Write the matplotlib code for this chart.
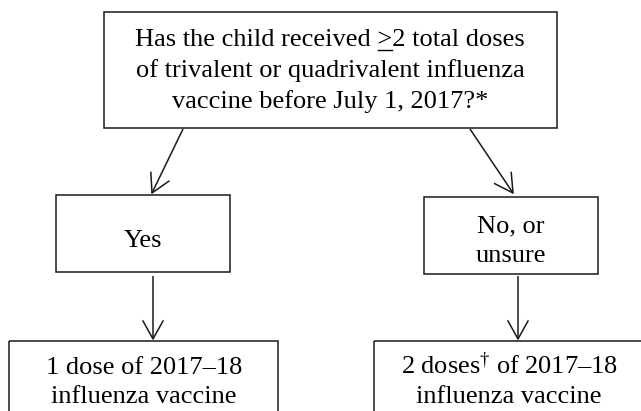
import numpy as np
import matplotlib
matplotlib.use("Agg")
import matplotlib.pyplot as plt
from matplotlib.patches import Rectangle

# --- текст узлов схемы ---
question_lines = ["Has the child received >2 total doses",
                  "of trivalent or quadrivalent influenza",
                  "vaccine before July 1, 2017?*"]
yes_lines = ["Yes"]
no_lines = ["No, or", "unsure"]
yes_dose_lines = ["1 dose of 2017\u201318", "influenza vaccine"]
no_dose_lines = ["2 doses$^{\\dagger}$ of 2017\u201318", "influenza vaccine"]
underlined = ">"

plt.rcParams['font.family'] = ['Liberation Serif', 'DejaVu Serif']
plt.rcParams['mathtext.fontset'] = 'custom'
plt.rcParams['mathtext.rm'] = 'Liberation Serif'
plt.rcParams['mathtext.it'] = 'Liberation Serif:italic'
plt.rcParams['mathtext.bf'] = 'Liberation Serif:bold'

FS = 19
LC = '#1a1a1a'

fig = plt.figure(figsize=(6.41, 4.11), dpi=100)
ax = fig.add_axes([0, 0, 1, 1])
ax.set_xlim(0, 641)
ax.set_ylim(411, 0)
ax.axis('off')


def box(x0, y0, x1, y1):
    ax.add_patch(Rectangle((x0, y0), x1 - x0, y1 - y0, fill=False,
                           edgecolor=LC, lw=1.1, clip_on=False))


def lines(x, baselines, texts):
    objs = []
    for y, s in zip(baselines, texts):
        objs.append(ax.text(x, y, s, ha='center', va='baseline',
                            fontsize=FS, color='black'))
    return objs


def arrow(x0, y0, x1, y1, L=18, H=10):
    d = np.array([x1 - x0, y1 - y0], float)
    d /= np.hypot(*d)
    n = np.array([-d[1], d[0]])
    tip = np.array([x1, y1])
    a = tip - L * d + H * n
    b = tip - L * d - H * n
    ax.plot([x0, x1], [y0, y1], color=LC, lw=1.1, solid_capstyle='butt')
    ax.plot([a[0], tip[0], b[0]], [a[1], tip[1], b[1]], color=LC, lw=1.1)


# рамки
box(104, 12, 557, 128)
box(56, 195, 230, 272)
box(424, 197, 598, 274)
box(9, 341, 278, 430)
box(374, 341, 660, 430)

# стрелки
arrow(183, 129, 152, 193)
arrow(470, 129, 513, 193)
arrow(153, 276, 153, 339)
arrow(518, 276, 518, 339)

# подписи
q = lines(330, [46.5, 77, 108], question_lines)
lines(143, [247], yes_lines)
lines(511, [232, 262], no_lines)
lines(144, [374, 403], yes_dose_lines)
lines(509, [374, 403], no_dose_lines)

# подчёркивание знака ">" (>= в оригинале)
r = fig.canvas.get_renderer()
full_w = q[0].get_window_extent(r).width
prefix = question_lines[0].split(underlined)[0] + underlined
t1 = ax.text(0, 0, prefix, fontsize=FS)
t2 = ax.text(0, 0, underlined, fontsize=FS)
p_w = t1.get_window_extent(r).width
g_w = t2.get_window_extent(r).width
t1.remove()
t2.remove()
x_right = 330 - full_w / 2 + p_w
ax.plot([x_right - g_w, x_right], [50.5, 50.5], color='black', lw=1.0)

fig.savefig("out.png", dpi=100)
